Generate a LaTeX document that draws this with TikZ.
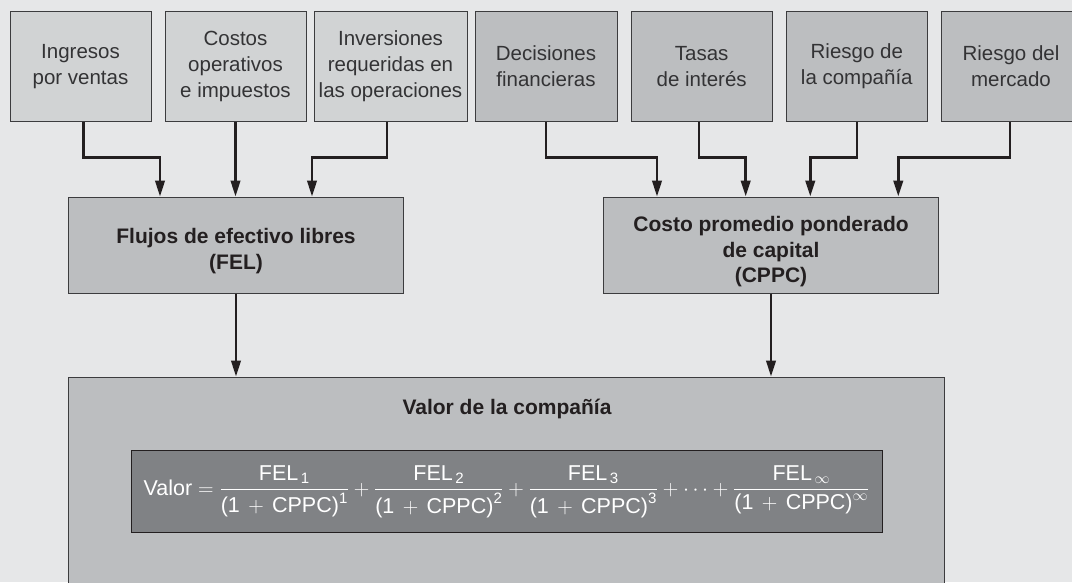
\RequirePackage{fix-cm}
\documentclass[tikz,border=0pt]{standalone}
\usepackage{fontspec}
\setmainfont{Liberation Sans}
\usepackage{amsmath}
\usetikzlibrary{arrows.meta}

\definecolor{fondo}{HTML}{E6E7E8}
\definecolor{cajaclara}{HTML}{D1D3D4}
\definecolor{cajaoscura}{HTML}{BCBEC0}
\definecolor{cajaformula}{HTML}{808285}
\definecolor{linea}{HTML}{231F20}
\definecolor{borde}{HTML}{3C3C3E}
\definecolor{textogris}{HTML}{333335}

\begin{document}
\begin{tikzpicture}[x=1pt, y=-1pt,
        caja/.style={draw=borde, line width=1pt, minimum height=110pt, inner sep=0pt,
            align=center, text=textogris, font=\fontsize{20.5}{26}\selectfont},
        cajacentral/.style={draw=borde, line width=1pt, fill=cajaoscura, minimum height=96pt, inner sep=0pt},
        textocentral/.style={align=center, text=linea, font=\fontsize{21}{25.5}\selectfont\bfseries},
        flecha/.style={draw=linea, line width=2.6pt, -{Triangle[length=16pt, width=9.5pt]}}]
        \fill [fondo] (0,0) rectangle (1072,582);
        \clip (0,0) rectangle (1072,582);
        % fila superior
        \node [caja, fill=cajaclara, minimum width=141pt] (ingresos) at (80.5,66.5) {Ingresos\\por ventas};
        \node [caja, fill=cajaclara, minimum width=141pt] (costos) at (235.5,66.5) {Costos\\operativos\\e impuestos};
        \node [caja, fill=cajaclara, minimum width=153pt] (inversiones) at (390.5,66.5) {Inversiones\\requeridas en\\las operaciones};
        \node [caja, fill=cajaoscura, minimum width=142pt] (decisiones) at (546,66.5) {Decisiones\\financieras};
        \node [caja, fill=cajaoscura, minimum width=141pt] (tasas) at (701.7,66.5) {Tasas\\de interés};
        \node [caja, fill=cajaoscura, minimum width=141pt] (riesgocomp) at (856.8,66.5) {Riesgo de\\la compañía};
        \node [caja, fill=cajaoscura, minimum width=139pt] (riesgomerc) at (1011,66.5) {Riesgo del\\mercado};
        % fila central
        \node [cajacentral, minimum width=335pt] (fel) at (236,245) {};
        \node [textocentral] (feltexto) at ([yshift=-6pt]fel.center) {Flujos de efectivo libres\\(FEL)};
        \node [cajacentral, minimum width=335pt] (cppc) at (771,245) {};
        \node [textocentral] (cppctexto) at ([yshift=-7pt]cppc.center) {Costo promedio ponderado\\de capital\\(CPPC)};
        % valor
        \node [cajacentral, minimum width=876pt, minimum height=243pt] (valor) at (506,498.5) {};
        \node [textocentral] (valortitulo) at (507,409) {Valor de la compañía};
        \node [draw=linea, line width=1pt, fill=cajaformula, text=white, minimum width=751pt, minimum height=82pt,
            inner sep=0pt, font=\fontsize{21.5}{26}\selectfont] (formula) at (506.5,491.7)
            {$\text{Valor} = \dfrac{\text{FEL}_{\,\text{1}}}{\text{(1} \,+\, \text{CPPC)}^{\text{1}}}
            + \dfrac{\text{FEL}_{\,\text{2}}}{\text{(1} \,+\, \text{CPPC)}^{\text{2}}}
            + \dfrac{\text{FEL}_{\,\text{3}}}{\text{(1} \,+\, \text{CPPC)}^{\text{3}}}
            + \cdots + \dfrac{\text{FEL}_{\,\infty}}{\text{(1} \,+\, \text{CPPC)}^{\infty}}$};
        % flechas
        \draw [flecha] ([xshift=3pt]ingresos.south) -- ++(0,35.3) -| ([xshift=-76pt]fel.north);
        \draw [flecha] (costos.south) -- (costos.south |- fel.north);
        \draw [flecha] ([xshift=-3.5pt]inversiones.south) -- ++(0,35.3) -| ([xshift=76pt]fel.north);
        \draw [flecha] (decisiones.south) -- ++(0,35.3) -| ([xshift=-114pt]cppc.north);
        \draw [flecha] ([xshift=-2.7pt]tasas.south) -- ++(0,35.3) -| ([xshift=-25.3pt]cppc.north);
        \draw [flecha] (riesgocomp.south) -- ++(0,35.3) -| ([xshift=39.3pt]cppc.north);
        \draw [flecha] ([xshift=-1pt]riesgomerc.south) -- ++(0,35.3) -| ([xshift=127.3pt]cppc.north);
        \draw [flecha] (fel.south) -- (fel.south |- valor.north);
        \draw [flecha] (cppc.south) -- (cppc.south |- valor.north);
    \end{tikzpicture}
\end{document}
